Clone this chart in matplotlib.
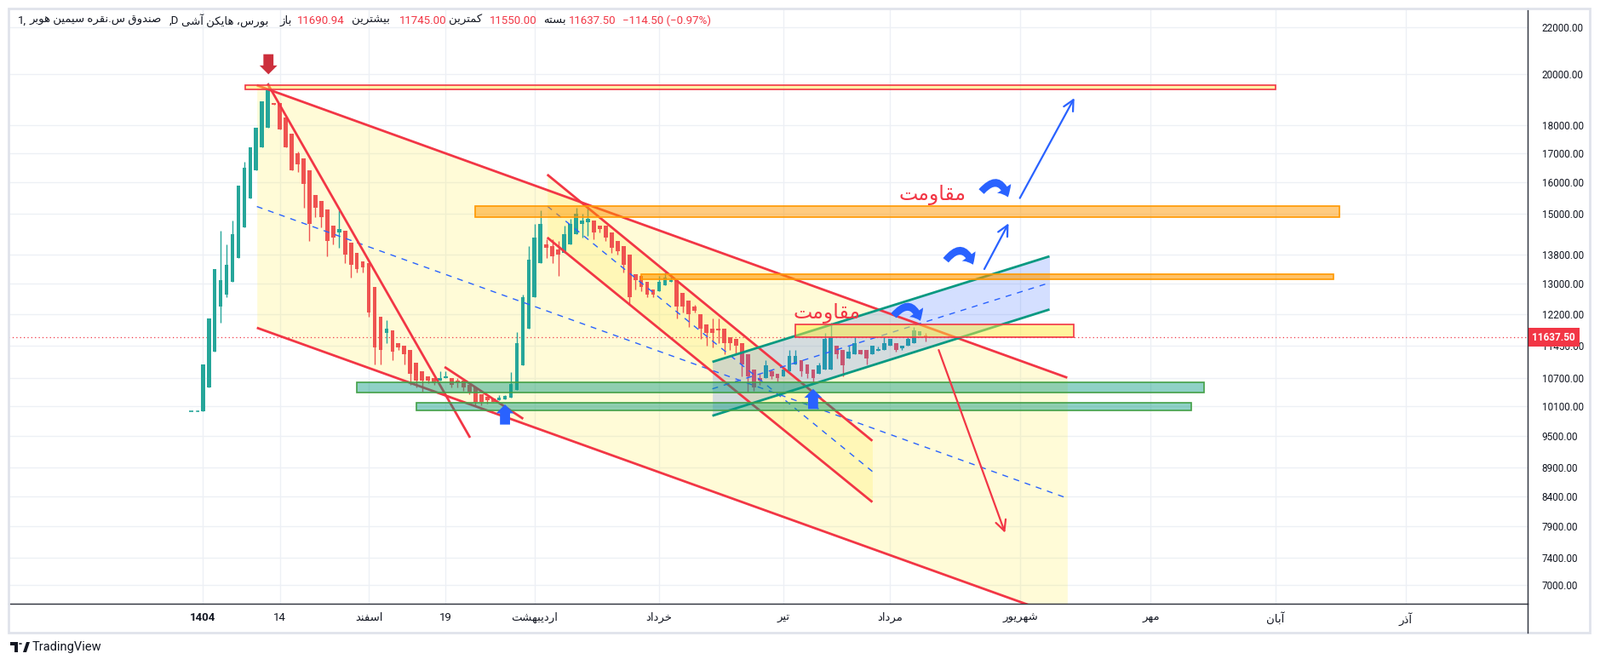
import matplotlib.pyplot as plt
import matplotlib.transforms as mtransforms
from matplotlib.patches import Rectangle, FancyArrowPatch, Circle, Polygon
from matplotlib.ticker import FuncFormatter, NullLocator, NullFormatter
import numpy as np

plt.rcParams['font.family'] = ['Roboto', 'DejaVu Sans']

# persian letters -> presentation forms (isolated, final, initial, medial)
FORMS = {
    'ا': ('\ufe8d', '\ufe8e'), 'آ': ('\ufe81', '\ufe82'),
    'ب': ('\ufe8f', '\ufe90', '\ufe91', '\ufe92'), 'ت': ('\ufe95', '\ufe96', '\ufe97', '\ufe98'),
    'خ': ('\ufea5', '\ufea6', '\ufea7', '\ufea8'), 'د': ('\ufea9', '\ufeaa'),
    'ذ': ('\ufeab', '\ufeac'), 'ر': ('\ufead', '\ufeae'), 'ز': ('\ufeaf', '\ufeb0'),
    'س': ('\ufeb1', '\ufeb2', '\ufeb3', '\ufeb4'), 'ش': ('\ufeb5', '\ufeb6', '\ufeb7', '\ufeb8'),
    'ص': ('\ufeb9', '\ufeba', '\ufebb', '\ufebc'), 'ف': ('\ufed1', '\ufed2', '\ufed3', '\ufed4'),
    'ق': ('\ufed5', '\ufed6', '\ufed7', '\ufed8'), 'ک': ('\ufb8e', '\ufb8f', '\ufb90', '\ufb91'),
    'م': ('\ufee1', '\ufee2', '\ufee3', '\ufee4'), 'ن': ('\ufee5', '\ufee6', '\ufee7', '\ufee8'),
    'ه': ('\ufee9', '\ufeea', '\ufeeb', '\ufeec'), 'و': ('\ufeed', '\ufeee'),
    'ی': ('\ufbfc', '\ufbfd', '\ufbfe', '\ufbff'),
}


def fa(s):
    # shape persian text and put it in visual (left to right) order
    if not any(ch in FORMS for ch in s):
        return s
    out = []
    for i, c in enumerate(s):
        if c not in FORMS:
            out.append(c)
            continue
        f = FORMS[c]
        prev = s[i - 1] if i > 0 else ''
        nxt = s[i + 1] if i + 1 < len(s) else ''
        jp = prev in FORMS and len(FORMS[prev]) == 4
        jn = len(f) == 4 and nxt in FORMS
        if jp and jn:
            out.append(f[3])
        elif jp:
            out.append(f[1])
        elif jn:
            out.append(f[2])
        else:
            out.append(f[0])
    return ''.join(reversed(out))


# ---- heikin ashi candles (daily) ----
opens = [10000, 10500, 11300, 12400, 12700, 13050, 13700, 14600, 15500, 16400,
         17200, 17900, 18850, 18850, 18300, 17700, 17000, 16800, 16400, 15600,
         15400, 15150, 14650, 14450, 14500, 14150, 13850, 13600, 13550, 12900,
         12150, 11750, 11800, 11500, 11450, 11350, 11050, 10850, 10750, 10700,
         10650, 10700, 10700, 10650, 10650, 10550, 10500, 10350, 10300, 10270,
         10220, 10240, 10280, 10450, 10980, 11850, 12650, 13550, 14100, 14050,
         13950, 13850, 14100, 14400, 14700, 14750, 14800, 14650, 14650, 14450,
         14200, 14050, 13800, 13250, 13200, 13050, 12850, 12800, 12950, 13050,
         13100, 12750, 12550, 12400, 12200, 11950, 11850, 11850, 11850, 11650,
         11600, 11500, 11250, 10900, 10700, 10700, 10850, 10800, 10750, 10850,
         11000, 11100, 11000, 10900, 10800, 10900, 10900, 11450, 11350, 11150,
         11250, 11350, 11350, 11250, 11330, 11350, 11450, 11500, 11380, 11450,
         11500, 11680, 11690.94]
highs = [11000, 12100, 13400, 14500, 14100, 14800, 15900, 16700, 17200, 17900,
         18900, 19650, 18850, 18850, 18300, 17700, 17050, 16800, 16400, 15600,
         15400, 15150, 14650, 15100, 14500, 14150, 13850, 13600, 13550, 12900,
         12150, 12050, 11800, 11500, 11450, 11350, 11050, 10850, 10750, 10700,
         10850, 10850, 10700, 10700, 10650, 10550, 10500, 10350, 10300, 10270,
         10330, 10340, 10840, 11770, 12700, 14050, 14700, 15100, 14250, 14250,
         14200, 14650, 14850, 15200, 15000, 15250, 14800, 14650, 14650, 14450,
         14200, 14050, 13800, 13250, 13200, 13050, 12850, 13200, 13300, 13250,
         13100, 12750, 12550, 12450, 12200, 11950, 12100, 12100, 11850, 11650,
         11600, 11500, 11250, 10900, 10800, 11100, 10900, 10800, 10900, 11350,
         11350, 11100, 11000, 10900, 11050, 11750, 12000, 11450, 11350, 11450,
         11650, 11350, 11350, 11450, 11420, 11650, 11600, 11500, 11450, 11650,
         11900, 11780, 11745]
lows = [10000, 10500, 11300, 12000, 12650, 13050, 13700, 14600, 15500, 16400,
        17200, 17900, 18780, 17850, 17200, 16400, 16350, 15200, 14200, 14900,
        14600, 13750, 14100, 14000, 13550, 13150, 13300, 13300, 12150, 11000,
        11000, 11500, 11100, 11350, 11000, 10550, 10500, 10400, 10600, 10550,
        10650, 10700, 10500, 10500, 10420, 10350, 10100, 10120, 10150, 10200,
        10220, 10240, 10280, 10450, 10980, 11850, 12650, 13550, 13700, 13550,
        13200, 13850, 14100, 14400, 14300, 14350, 14250, 14450, 14200, 13850,
        13800, 13300, 12450, 12850, 12800, 12650, 12650, 12800, 12950, 13050,
        12100, 12250, 11900, 12250, 11600, 11450, 11400, 11500, 11250, 11350,
        11250, 10750, 10400, 10420, 10550, 10700, 10680, 10630, 10750, 10850,
        11000, 10750, 10700, 10620, 10800, 10900, 10900, 11150, 10750, 11150,
        11250, 11250, 11000, 11250, 11330, 11350, 11450, 11300, 11350, 11450,
        11500, 11680, 11550]
closes = [11000, 12100, 13400, 13100, 13500, 14400, 15900, 16500, 17200, 17900,
          18900, 19350, 18780, 17850, 17200, 16400, 16600, 15950, 14700, 15200,
          14900, 14200, 14300, 14550, 13800, 13500, 13400, 13450, 12250, 11400,
          11350, 11850, 11300, 11400, 11250, 10800, 10650, 10650, 10650, 10600,
          10700, 10750, 10550, 10600, 10500, 10400, 10200, 10200, 10230, 10200,
          10280, 10310, 10580, 11500, 12650, 13650, 14300, 14700, 14000, 13750,
          13800, 14400, 14700, 15000, 14800, 14850, 14450, 14550, 14300, 14000,
          13900, 13500, 12650, 13100, 12900, 12700, 12700, 13050, 13150, 13100,
          12400, 12400, 12200, 12300, 11850, 11750, 11750, 11800, 11500, 11500,
          11450, 11000, 10750, 10500, 10650, 10980, 10750, 10700, 10900, 11200,
          11200, 10850, 10800, 10700, 10980, 11600, 11650, 11250, 10980, 11300,
          11500, 11250, 11150, 11450, 11350, 11500, 11600, 11350, 11450, 11600,
          11800, 11780, 11637.5]
last_price = 11637.5

price_ticks = [22000, 20000, 18000, 17000, 16000, 15000, 13800, 13000, 12200,
               11450, 10700, 10100, 9500, 8900, 8400, 7900, 7400, 7000]
date_pos = [0, 13, 28, 41, 56, 77, 98, 116, 138, 160, 181, 203]
date_labels = ['1404', '14', 'اسفند', '19', 'اردیبهشت', 'خرداد', 'تیر',
               'مرداد', 'شهریور', 'مهر', 'آبان', 'آذر']

W, H = 1879, 781
fig = plt.figure(figsize=(W / 100, H / 100), dpi=100, facecolor='white')
ax = fig.add_axes([10 / W, 1 - 709 / H, (1794 - 10) / W, (709 - 10) / H])
ax.set_yscale('log')
ax.set_xlim(-32.8, 223.6)
ax.set_ylim(6732, 22880)

RED = '#f23645'
GREEN = '#26a69a'
BLUE = '#2962ff'
TEAL = '#089981'

# candles
o = np.array(opens); c = np.array(closes)
x = np.arange(len(o))
cols = np.where(c >= o, GREEN, '#ef5350')
ax.vlines(x, lows, highs, colors=cols, lw=1, zorder=3)
blo = np.minimum(o, c)
bhi = np.maximum(np.maximum(o, c), blo * 1.002)
ax.bar(x, bhi - blo, bottom=blo, width=0.68, color=cols, lw=0, zorder=3)
ax.hlines(10000, -2.4, -0.6, colors=GREEN, lw=1.2, linestyles=(0, (3, 2)), zorder=3)

# last price line
ax.axhline(last_price, color=RED, lw=0.9, ls=(0, (1, 2.5)), zorder=2)


def channel(x0, x1, up, lo, mid, fill, falpha, lcol, z=1):
    ax.fill_between([x0, x1], lo, up, color=fill, alpha=falpha, lw=0, zorder=z)
    ax.plot([x0, x1], up, color=lcol, lw=2, zorder=5, solid_capstyle='butt')
    ax.plot([x0, x1], lo, color=lcol, lw=2, zorder=5, solid_capstyle='butt')
    ax.plot([x0, x1], mid, color=BLUE, lw=1, ls=(0, (5, 5)), zorder=5)


# big descending channel
channel(9.12, 145.9, [19540, 10713], [11870, 6526], [15230, 8362], '#ffeb3b', 0.2, RED)
# inner descending channel
channel(58.13, 113.0, [16264, 9409], [14289, 8296], [15244, 8835], '#ffeb3b', 0.2, RED)
# rising channel
channel(86.0, 142.9, [11066, 13748], [9906, 12326], [10470, 13019], BLUE, 0.2, TEAL, z=4)

# trend lines
ax.plot([11.02, 45.0], [19565, 9490], color=RED, lw=2, zorder=5)
ax.plot([40.97, 53.9], [10937, 9858], color=RED, lw=2, zorder=5)

# zones
zones = [
    (7.1, 181.1, 19360, 19560, '#ffeb3b', 0.45, RED),
    (46.0, 191.9, 14900, 15250, '#ff9800', 0.5, '#ff9800'),
    (74.0, 190.9, 13110, 13260, '#ff9800', 0.6, '#ff9800'),
    (100.0, 147.0, 11645, 11960, '#ffeb3b', 0.5, RED),
    (26.0, 169.0, 10385, 10606, TEAL, 0.45, '#43a047'),
    (36.1, 166.8, 10021, 10169, TEAL, 0.45, '#43a047'),
]
for x0, x1, plo, phi, fc, a, ec in zones:
    ax.add_patch(Rectangle((x0, plo), x1 - x0, phi - plo, fc=fc, alpha=a, lw=0, zorder=6))
    ax.add_patch(Rectangle((x0, plo), x1 - x0, phi - plo, fc='none', ec=ec, lw=1.2, zorder=6))

# arrow lines
for (xa, pa), (xb, pb), col in [((124.2, 11340), (135.4, 7788), RED),
                                ((137.9, 15496), (147.1, 19036), BLUE),
                                ((131.9, 13392), (136.0, 14713), BLUE)]:
    ax.annotate('', xy=(xb, pb), xytext=(xa, pa),
                arrowprops=dict(arrowstyle='->', color=col, lw=1.6, mutation_scale=22,
                                shrinkA=0, shrinkB=0), zorder=7)

# curved arrows
for (xa, pa), (xb, pb) in [((131.4, 15704), (135.9, 15526)),
                           ((125.4, 13637), (130.0, 13515)),
                           ((116.6, 12170), (121.1, 12040))]:
    ax.add_patch(FancyArrowPatch((xa, pa), (xb, pb), connectionstyle='arc3,rad=-0.85',
                                 arrowstyle='simple,head_length=0.8,head_width=1.4,tail_width=0.6',
                                 mutation_scale=10, color=BLUE, lw=0, zorder=8,
                                 shrinkA=0, shrinkB=0))

# block arrows
for xi, tip, dy, col in [(51.0, 10139, -17, BLUE), (103.0, 10469, -17, BLUE),
                         (11.07, 19985, 17, '#cc2f3c')]:
    ax.annotate('', xy=(xi, tip), xytext=(0, dy), textcoords='offset points',
                arrowprops=dict(arrowstyle='simple,head_length=0.75,head_width=1.5,tail_width=0.85',
                                mutation_scale=10, color=col, lw=0, shrinkA=0, shrinkB=0),
                zorder=9)

# labels
for xi, p in [(123.2, 15596), (105.3, 12220)]:
    ax.text(xi, p, fa('مقاومت'), color=RED, fontsize=17, ha='center', va='center',
            family='DejaVu Sans', zorder=9)

# axes styling
ax.grid(True, color='#edf0f5', lw=1)
ax.set_axisbelow(True)
for s in ['top', 'left']:
    ax.spines[s].set_visible(False)
for s in ['right', 'bottom']:
    ax.spines[s].set_color('#2a2e39')
    ax.spines[s].set_linewidth(1)
ax.yaxis.tick_right()
ax.set_yticks(price_ticks)
ax.yaxis.set_major_formatter(FuncFormatter(lambda v, p: f'{v:.2f}'))
ax.yaxis.set_minor_locator(NullLocator())
ax.yaxis.set_minor_formatter(NullFormatter())
ax.tick_params(axis='y', length=0, pad=12, labelsize=8.5, labelcolor='#131722')
ax.set_xticks(date_pos, [fa(t) for t in date_labels])
ax.tick_params(axis='x', length=0, pad=7, labelsize=9.5, labelcolor='#131722')
ax.get_xticklabels()[0].set_fontweight('bold')

trans = mtransforms.blended_transform_factory(ax.transAxes, ax.transData)
ax.text(1.003, last_price, '11637.50', transform=trans, ha='left', va='center', color='white',
        fontsize=8.5, fontweight='bold', clip_on=False, zorder=20,
        bbox=dict(boxstyle='square,pad=0.4', fc=RED, ec='none'))

# header
hy = 1 - 24 / H
header = [(21, '1,', '#131722'), (34, fa('صندوق س.نقره سیمین هوبر'), '#131722'),
          (199, ',D', '#131722'), (213, fa('بورس، هایکن آشی'), '#131722'),
          (329, fa('باز'), '#131722'), (349, '11690.94', RED),
          (413, fa('بیشترین'), '#131722'), (469, '11745.00', RED),
          (527, fa('کمترین'), '#131722'), (575, '11550.00', RED),
          (638, fa('بسته'), '#131722'), (668, '11637.50', RED),
          (731, '−114.50 (−0.97%)', RED)]
for hx, txt, col in header:
    fig.text(hx / W, hy, txt, color=col, fontsize=9.5, ha='left', va='center')

# chart frame
fig.add_artist(Rectangle((10 / W, 1 - 743 / H), (1867 - 10) / W, (743 - 10) / H,
                         transform=fig.transFigure, fc='none', ec='#e0e3eb', lw=2))
fig.add_artist(plt.Line2D([1794 / W, 1794 / W], [1 - 743 / H, 1 - 709 / H],
                          transform=fig.transFigure, color='#2a2e39', lw=1))

# footer logo
fig.add_artist(Polygon([[12 / W, 1 - 754 / H], [21 / W, 1 - 754 / H], [21 / W, 1 - 766 / H],
                        [17 / W, 1 - 766 / H], [17 / W, 1 - 758 / H], [12 / W, 1 - 758 / H]],
                       closed=True, transform=fig.transFigure, fc='#131722', ec='none'))
fig.add_artist(Circle((24 / W, 1 - 756 / H), 2 / W, transform=fig.transFigure, fc='#131722', ec='none'))
fig.add_artist(Polygon([[27 / W, 1 - 766 / H], [31 / W, 1 - 766 / H], [35 / W, 1 - 754 / H],
                        [31 / W, 1 - 754 / H]], closed=True, transform=fig.transFigure,
                       fc='#131722', ec='none'))
fig.text(38 / W, 1 - 760 / H, 'TradingView', fontsize=10.5, color='#131722', va='center')

fig.savefig('out.png', dpi=100, facecolor='white')
